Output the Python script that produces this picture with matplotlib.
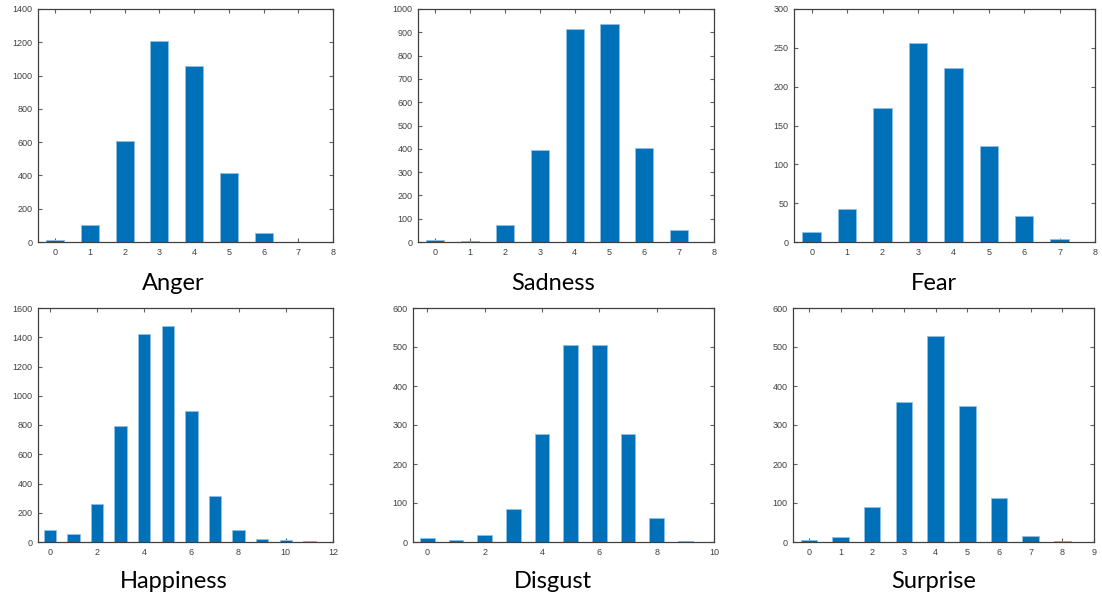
import matplotlib
matplotlib.use("Agg")
import matplotlib.pyplot as plt
import numpy as np

# Intensity-score distributions per emotion
anger = [10, 104, 607, 1210, 1056, 415, 52, 3]
sadness = [7, 4, 73, 396, 913, 936, 405, 50]
fear = [13, 43, 173, 256, 224, 124, 33, 4]
happiness = [82, 55, 258, 794, 1420, 1479, 895, 315, 84, 20, 11, 7]
disgust = [9, 5, 17, 85, 277, 505, 505, 277, 61, 3, 1]
surprise = [5, 13, 90, 360, 527, 348, 113, 15, 3]

emotions = ["Anger", "Sadness", "Fear", "Happiness", "Disgust", "Surprise"]
series = [anger, sadness, fear, happiness, disgust, surprise]
x_max = [8, 8, 8, 12, 10, 9]
y_max = [1400, 1000, 300, 1600, 600, 600]
y_step = [200, 100, 50, 200, 100, 100]
x_step = [1, 1, 1, 2, 2, 1]

W, H = 1102, 599
fig = plt.figure(figsize=(W / 100, H / 100), dpi=100)
fig.patch.set_facecolor("white")

# panel boxes in pixels: (left, right, top, bottom)
boxes = [
    (38, 333, 9, 242),
    (418, 714, 9, 242),
    (794, 1095, 9, 242),
    (38, 333, 308, 542),
    (413, 714, 308, 542),
    (793, 1094, 308, 542),
]
title_pos = [(173, 290), (553, 290), (934, 290), (174, 588), (553, 588), (934, 588)]

bar_color = "#0070b8"
edge_color = "#8fc0e0"
axis_color = "#404040"

for name, vals, xm, ym, ys, xs, box, tp in zip(
        emotions, series, x_max, y_max, y_step, x_step, boxes, title_pos):
    l, r, t, b = box
    ax = fig.add_axes([l / W, (H - b) / H, (r - l) / W, (b - t) / H])
    ax.set_axisbelow(True)
    x = np.arange(len(vals))
    ax.bar(x, vals, width=0.52, color=bar_color, edgecolor=edge_color,
           linewidth=0.6, zorder=2)
    ax.set_xlim(-0.5, xm)
    ax.set_ylim(0, ym)
    ax.set_xticks(np.arange(0, xm + 1, xs))
    ax.set_yticks(np.arange(0, ym + 1, ys))
    for s in ax.spines.values():
        s.set_color(axis_color)
        s.set_linewidth(0.9)
        s.set_zorder(3)
    ax.tick_params(direction="in", top=True, right=True, length=3,
                   width=0.8, color="#606060", labelsize=6.5,
                   labelcolor="#404040", pad=4)
    for lab in ax.get_xticklabels() + ax.get_yticklabels():
        lab.set_family("Liberation Sans")
    fig.text(tp[0] / W, 1 - tp[1] / H, name, ha="center", va="baseline",
             fontsize=17, family="Lato", color="black")

fig.savefig("out.png", dpi=100, facecolor="white")
